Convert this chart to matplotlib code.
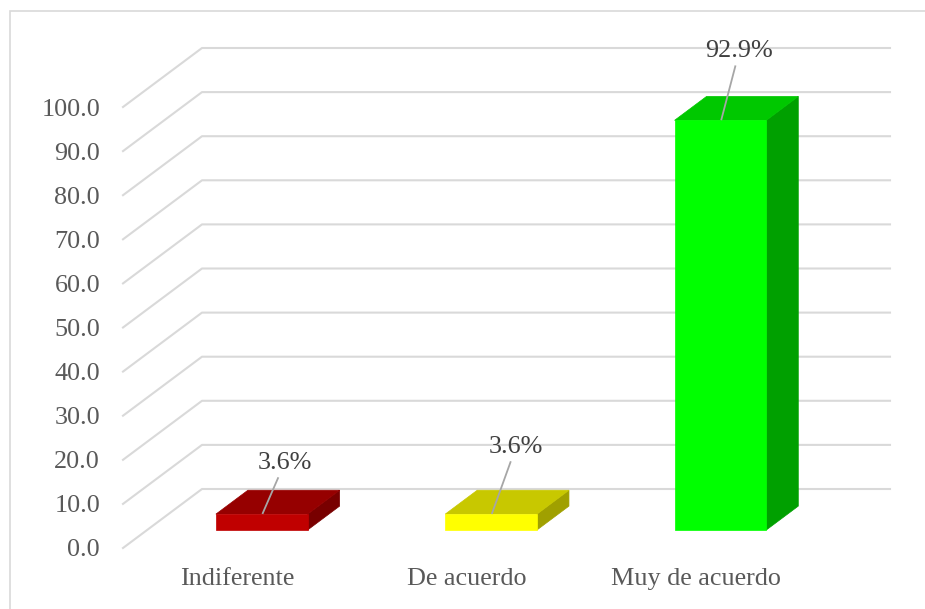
import matplotlib
matplotlib.use("Agg")
import matplotlib.pyplot as plt
import numpy as np
from matplotlib.patches import Polygon, Rectangle
from matplotlib.lines import Line2D

# ---- data ----
categories = ["Indiferente", "De acuerdo", "Muy de acuerdo"]
values = [3.6, 3.6, 92.9]
labels = ["3.6%", "3.6%", "92.9%"]
yticks = [0, 10, 20, 30, 40, 50, 60, 70, 80, 90, 100]

# ---- styles ----
front_cols = ["#C00000", "#FFFF00", "#00FF00"]
top_cols = ["#960000", "#C8C800", "#00C800"]
side_cols = ["#780000", "#A0A000", "#00A000"]
grid_col = "#D9D9D9"
txt_col = "#595959"
lbl_col = "#404040"
FONT = "Liberation Serif"
FS = 18.8

W, H, DPI = 925, 609, 100
fig = plt.figure(figsize=(W / DPI, H / DPI), dpi=DPI)
fig.patch.set_facecolor("white")

# front plane axes (pixel layout)
x_left, x_right = 123, 811
y_zero, y_top = 548, 107
ax = fig.add_axes([x_left / W, (H - y_zero) / H, (x_right - x_left) / W, (y_zero - y_top) / H])
ax.set_xlim(0, len(categories))
ax.set_ylim(0, 100)
ax.patch.set_alpha(0)
for s in ax.spines.values():
    s.set_visible(False)

DX, DY = 79, 59  # full depth offset, display pixels
D0, D1 = 0.305, 0.71  # bar depth range
BW = 0.40  # bar width in category units


def pt(c, v, d):
    x, y = ax.transData.transform((c, v))
    return (x + d * DX, y + d * DY)


def poly(points, color, z):
    p = Polygon(points, closed=True, facecolor=color, edgecolor=color, linewidth=0.5,
                transform=None, zorder=z, clip_on=False)
    fig.add_artist(p)

# gridlines
for v in yticks:
    a = pt(0, v, 0)
    b = pt(0, v, 1)
    c = pt(len(categories), v, 1)
    fig.add_artist(Line2D([a[0], b[0], c[0]], [a[1], b[1], c[1]], color=grid_col, lw=1.5,
                          transform=None, zorder=1))

# bars
for i, v in enumerate(values):
    l = i + 0.5 - BW / 2
    r = i + 0.5 + BW / 2
    poly([pt(r, 0, D0), pt(r, 0, D1), pt(r, v, D1), pt(r, v, D0)], side_cols[i], 3)
    poly([pt(l, v, D0), pt(r, v, D0), pt(r, v, D1), pt(l, v, D1)], top_cols[i], 3)
    poly([pt(l, 0, D0), pt(r, 0, D0), pt(r, v, D0), pt(l, v, D0)], front_cols[i], 4)

# data labels with leader lines
label_offsets = [(23, 51), (25, 67), (19, 69)]
for i, v in enumerate(values):
    base = pt(i + 0.5, v, D0)
    ox, oy = label_offsets[i]
    lx, ly = base[0] + ox, base[1] + oy
    frac = (oy - 15) / oy
    fig.add_artist(Line2D([base[0] + 1, base[0] + ox * frac], [base[1] + 1, base[1] + oy * frac],
                          color="#A6A6A6", lw=1.3, transform=None, zorder=5))
    fig.text(lx / W, ly / H, labels[i], ha="center", va="center", fontsize=FS,
             family=FONT, color=lbl_col, zorder=6)

# ticks
ax.set_yticks(yticks)
ax.set_yticklabels([f"{t:.1f}" for t in yticks], family=FONT, fontsize=FS, color=txt_col)
ax.set_xticks([i + 0.5 for i in range(len(categories))])
ax.set_xticklabels(categories, family=FONT, fontsize=FS, color=txt_col)
ax.tick_params(axis="y", length=0, pad=16.5)
ax.tick_params(axis="x", length=0, pad=14.5)

# chart border
fig.add_artist(Rectangle((9.5, -20), W + 30, H - 11 + 20, transform=None, fill=False,
                         edgecolor=grid_col, lw=1.2, zorder=0))

fig.savefig("out.png", dpi=DPI, facecolor="white")
